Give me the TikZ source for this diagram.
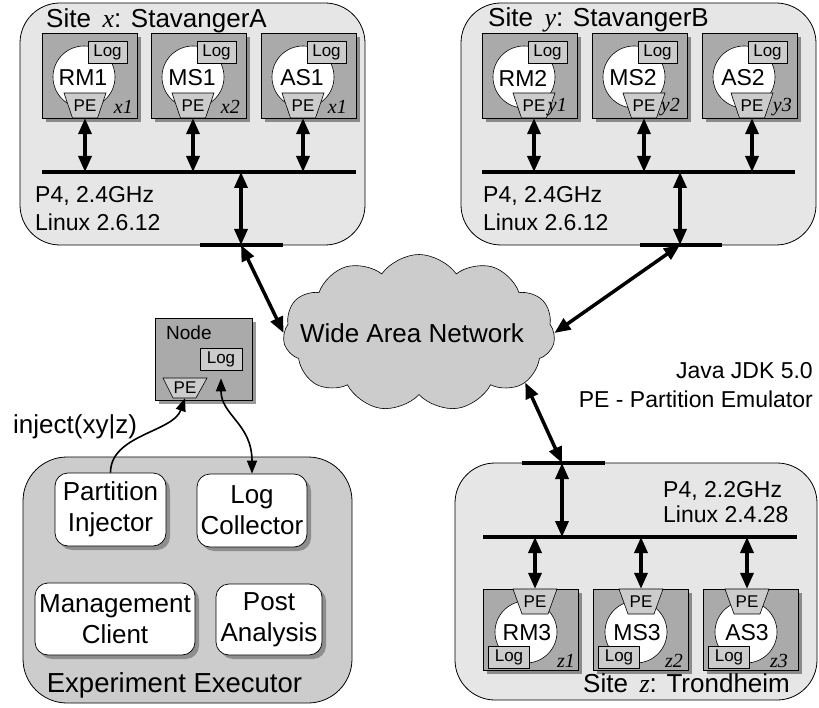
\documentclass[tikz,border=0pt]{standalone}
\usepackage{fontspec}
\setmainfont{Liberation Sans}
\newfontfamily\serifvar{Liberation Serif}
\usetikzlibrary{arrows.meta,shapes.symbols,shadows,calc}

\definecolor{sitefill}{HTML}{E6E6E6}
\definecolor{execfill}{HTML}{CCCCCC}
\definecolor{srvfill}{HTML}{AAAAAA}
\definecolor{partfill}{HTML}{CCCCCC}
\definecolor{cloudfill}{HTML}{CCCCCC}

% server with Log on top and PE at the bottom
% #1 name, #2 left x, #3 top y, #4 PE centre x, #5 label, #6 right edge of site tag, #7 site tag
\newcommand\srvup[7]{%
  \node[srvbox,anchor=north west] (#1) at (#2,#3) {};
  \filldraw[fill=white,draw=black,line width=0.6pt] (#2+42,#3+44) circle[radius=31pt];
  \node[logbox] (#1log) at (#2+65.5,#3+19.5) {Log};
  \filldraw[pepart] (#4-21,#3+60) -- (#4+21,#3+60) -- (#4+12.5,#3+85) -- (#4-12.5,#3+85) -- cycle;
  \node[petext] (#1pe) at (#4,#3+72.5) {PE};
  \node[srvlabel] (#1lbl) at (#2+41,#3+45) {#5};
  \node[sublabel,anchor=east] (#1tag) at (#6,#3+74) {#7};
}
% server with PE on top and Log at the bottom
\newcommand\srvdown[7]{%
  \node[srvbox,minimum height=81pt,anchor=north west] (#1) at (#2,#3) {};
  \filldraw[fill=white,draw=black,line width=0.6pt] (#2+43,#3+43) circle[radius=31pt];
  \filldraw[pepart] (#4-22,#3) -- (#4+22,#3) -- (#4+13,#3+25) -- (#4-13,#3+25) -- cycle;
  \node[petext] (#1pe) at (#4,#3+12.5) {PE};
  \node[logbox,minimum width=41pt] (#1log) at (#2+26,#3+68) {Log};
  \node[srvlabel] (#1lbl) at (#2+44,#3+44) {#5};
  \node[sublabel,anchor=east] (#1tag) at (#6,#3+72) {#7};
}

\begin{document}
\begin{tikzpicture}[x=1pt,y=-1pt,
  sitebox/.style={draw=black,line width=0.8pt,fill=sitefill,rounded corners=40pt,inner sep=0pt},
  execbox/.style={draw=black,line width=0.8pt,fill=execfill,rounded corners=44pt,inner sep=0pt},
  srvbox/.style={draw=black,line width=0.7pt,fill=srvfill,minimum width=95pt,minimum height=85pt,inner sep=0pt,
    drop shadow={shadow xshift=4pt,shadow yshift=-4pt,fill=black,opacity=0.4}},
  logbox/.style={draw=black,line width=0.6pt,fill=partfill,minimum width=39pt,minimum height=22pt,inner sep=0pt,
    font=\fontsize{17}{20}\selectfont},
  pepart/.style={draw=black,line width=0.6pt,fill=partfill},
  petext/.style={minimum width=25pt,minimum height=25pt,inner sep=0pt,font=\fontsize{17}{20}\selectfont},
  srvlabel/.style={inner sep=0pt,font=\fontsize{23}{27}\selectfont},
  sublabel/.style={inner sep=0pt,font=\serifvar\itshape\fontsize{20}{24}\selectfont},
  toolbox/.style={draw=black,line width=0.7pt,fill=white,rounded corners=13pt,align=center,inner sep=0pt,
    font=\fontsize{26}{31}\selectfont,
    drop shadow={shadow xshift=4pt,shadow yshift=-4pt,fill=black,opacity=0.3}},
  txt/.style={inner sep=0pt,font=\fontsize{23}{27}\selectfont},
  titletxt/.style={inner sep=0pt,font=\fontsize{26}{31}\selectfont},
  busline/.style={line width=4.5pt},
  biarrow/.style={line width=3.5pt,{Triangle[length=16pt,width=13pt]}-{Triangle[length=16pt,width=13pt]}},
  thinline/.style={line width=1.6pt}
]
\useasboundingbox (0,0) rectangle (819,708);

% sites and the experiment executor
\node[sitebox,minimum width=345pt,minimum height=242pt] (sitex) at (192.5,124) {};
\node[sitebox,minimum width=355pt,minimum height=242pt] (sitey) at (638.5,124) {};
\node[sitebox,minimum width=362pt,minimum height=237pt] (sitez) at (636,581.5) {};
\node[execbox,minimum width=329pt,minimum height=246pt] (exec) at (187.5,580) {};

% wide area network
\node[cloud,cloud puffs=11,cloud puff arc=110,aspect=1.73,draw=black,line width=0.6pt,fill=cloudfill,
  minimum width=272pt,minimum height=157pt,inner sep=0pt] (wan) at (419,333) {};
\node[inner sep=0pt,font=\fontsize{26}{31}\selectfont] (wanlbl) at (412,333) {Wide Area Network};

% site x
\node[titletxt,anchor=base west] (xttl) at (46,28) {Site\, {\serifvar\itshape x}: StavangerA};
\srvup{rma}{42}{33}{85}{RM1}{133}{x1}
\srvup{msa}{151}{33}{193}{MS1}{240}{x2}
\srvup{asa}{261}{33}{303}{AS1}{347}{x1}
\node[txt,anchor=base west] (xcpu) at (35,203) {P4, 2.4GHz};
\node[txt,anchor=base west] (xos) at (35,231) {Linux 2.6.12};

% site y
\node[titletxt,anchor=base west] (yttl) at (488,27) {Site\, {\serifvar\itshape y}: StavangerB};
\srvup{rmb}{482}{33}{534}{RM2}{567}{y1}
\srvup{msb}{592}{33}{644}{MS2}{680}{y2}
\srvup{asb}{702}{33}{752}{AS2}{792}{y3}
\node[txt,anchor=base west] (ycpu) at (483,203) {P4, 2.4GHz};
\node[txt,anchor=base west] (yos) at (483,231) {Linux 2.6.12};

% site z
\node[titletxt,anchor=base west] (zttl) at (583,692) {Site\, {\serifvar\itshape z}: Trondheim};
\srvdown{rmc}{483}{589}{535}{RM3}{575}{z1}
\srvdown{msc}{593}{589}{641}{MS3}{683}{z2}
\srvdown{asc}{703}{589}{747}{AS3}{788}{z3}
\node[txt,anchor=base west] (zcpu) at (663,497) {P4, 2.2GHz};
\node[txt,anchor=base west] (zos) at (663,522) {Linux 2.4.28};

% local buses and gateways
\coordinate (busxl) at (42,172);  \coordinate (busxr) at (356,172);
\coordinate (busyl) at (482,172); \coordinate (busyr) at (795,172);
\coordinate (buszl) at (483,537); \coordinate (buszr) at (797,537);
\coordinate (gwxl) at (200,245);  \coordinate (gwxr) at (283,245); \coordinate (gwx) at (241,245);
\coordinate (gwyl) at (640,245);  \coordinate (gwyr) at (722,245); \coordinate (gwy) at (680,245);
\coordinate (gwzl) at (522,463);  \coordinate (gwzr) at (605,463); \coordinate (gwz) at (562,463);
\draw[busline] (busxl) -- (busxr);
\draw[busline] (busyl) -- (busyr);
\draw[busline] (buszl) -- (buszr);
\draw[busline] (gwxl) -- (gwxr);
\draw[busline] (gwyl) -- (gwyr);
\draw[busline] (gwzl) -- (gwzr);

\foreach \s in {rma,msa,asa}{\draw[biarrow] (\s pe.south) -- (\s pe.south |- busxl);}
\foreach \s in {rmb,msb,asb}{\draw[biarrow] (\s pe.south) -- (\s pe.south |- busyl);}
\foreach \s in {rmc,msc,asc}{\draw[biarrow] (\s pe.north) -- (\s pe.north |- buszl);}
\draw[biarrow] (gwx |- busxl) -- (gwx);
\draw[biarrow] (gwy |- busyl) -- (gwy);
\draw[biarrow] (gwz) -- (gwz |- buszl);
\draw[biarrow] (gwx) -- (wan.west);
\draw[biarrow] (gwy) -- (wan.east);
\draw[biarrow] (gwz) -- (wan.-25);

% monitoring node
\node[srvbox,minimum width=97pt,minimum height=82pt,anchor=north west] (mon) at (155,318) {};
\node[inner sep=0pt,font=\fontsize{19}{23}\selectfont,anchor=base west] (monlbl) at (166,340) {Node};
\node[logbox,minimum width=42pt] (monlog) at (221,359) {Log};
\filldraw[pepart] (163,378) -- (207,378) -- (196,398) -- (173,398) -- cycle;
\node[petext,minimum height=20pt] (monpe) at (185,388) {PE};

% experiment executor
\node[toolbox,minimum width=111pt,minimum height=73pt] (pinj) at (110.5,509.5) {Partition\\Injector};
\node[toolbox,minimum width=110pt,minimum height=73pt] (lcol) at (252,510.5) {Log\\Collector};
\node[toolbox,minimum width=160pt,minimum height=72pt] (mcli) at (115,619) {Management\\Client};
\node[toolbox,minimum width=106pt,minimum height=71pt] (pana) at (269,619.5) {Post\\Analysis};
\node[inner sep=0pt,font=\fontsize{27.5}{32}\selectfont,anchor=base] (execlbl) at (174.5,692) {Experiment Executor};

\draw[thinline,-{Triangle[length=13pt,width=10pt]}] (pinj.north)
  .. controls ($(pinj.north)+(0,-38)$) and ($(monpe.south)+(-12,34)$) .. (monpe.south);
\draw[thinline,{Triangle[length=13pt,width=10pt]}-{Triangle[length=13pt,width=10pt]},shorten <=8pt] (monlog.south)
  .. controls ($(monlog.south)+(0,45)$) and ($(lcol.north)+(0,-50)$) .. (lcol.north);
\node[inner sep=0pt,font=\fontsize{26}{31}\selectfont,anchor=base west] (injlbl) at (13,433) {inject(xy|z)};

% notes
\node[txt,anchor=base east] (jdk) at (813,378) {Java JDK 5.0};
\node[txt,anchor=base east] (penote) at (813,407) {PE - Partition Emulator};
\end{tikzpicture}
\end{document}
